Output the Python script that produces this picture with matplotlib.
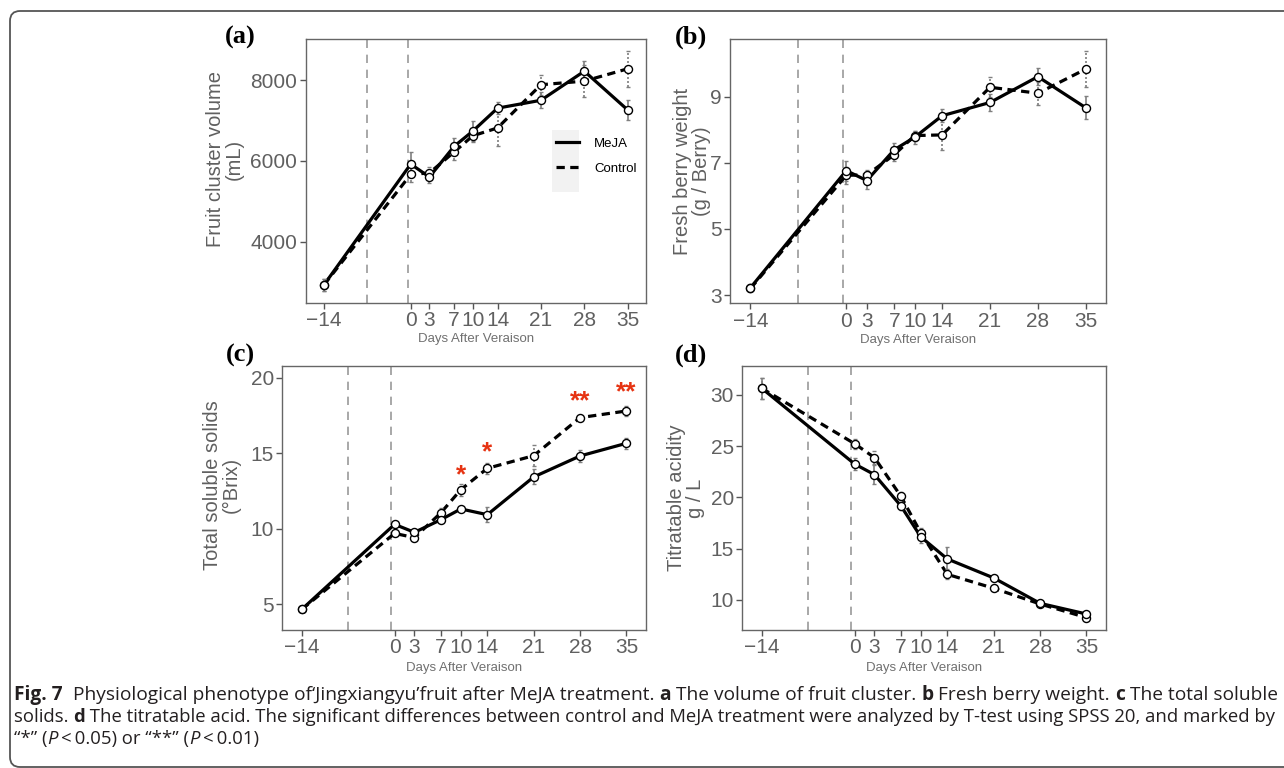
import matplotlib
matplotlib.use("Agg")
import matplotlib.pyplot as plt
from matplotlib.patches import FancyBboxPatch, Rectangle
from matplotlib.lines import Line2D
from matplotlib.transforms import IdentityTransform

plt.rcParams['font.family'] = ['Liberation Sans', 'DejaVu Sans']

days = [-14, 0, 3, 7, 10, 14, 21, 28, 35]
vlines = [-7, -0.5]

# (a) fruit cluster volume, mL
vol_meja = [2930, 5920, 5600, 6360, 6735, 7305, 7500, 8220, 7260]
vol_ctrl = [2930, 5665, 5700, 6220, 6620, 6815, 7885, 7975, 8280]
vol_meja_err = [150, 300, 150, 200, 250, 150, 200, 250, 250]
vol_ctrl_err = [150, 200, 150, 200, 150, 450, 250, 400, 450]

# (b) fresh berry weight, g / berry
wt_meja = [3.22, 6.76, 6.46, 7.39, 7.77, 8.42, 8.82, 9.60, 8.66]
wt_ctrl = [3.20, 6.62, 6.63, 7.24, 7.82, 7.84, 9.28, 9.10, 9.83]
wt_meja_err = [0.1, 0.3, 0.25, 0.2, 0.2, 0.2, 0.25, 0.25, 0.35]
wt_ctrl_err = [0.1, 0.25, 0.15, 0.2, 0.15, 0.45, 0.3, 0.35, 0.55]

# (c) total soluble solids, Brix
tss_meja = [4.65, 10.28, 9.75, 10.59, 11.30, 10.92, 13.42, 14.81, 15.65]
tss_ctrl = [4.65, 9.68, 9.40, 11.05, 12.58, 13.99, 14.83, 17.35, 17.79]
tss_meja_err = [0.1, 0.15, 0.2, 0.15, 0.15, 0.5, 0.5, 0.4, 0.35]
tss_ctrl_err = [0.1, 0.2, 0.2, 0.3, 0.4, 0.35, 0.7, 0.15, 0.35]
sig_days = [10, 14, 28, 35]
sig_marks = ['*', '*', '**', '**']
sig_y = [13.55, 15.05, 18.4, 19.0]

# (d) titratable acidity, g / L
ta_meja = [30.65, 23.27, 22.23, 19.17, 16.15, 14.0, 12.15, 9.67, 8.63]
ta_ctrl = [30.65, 25.25, 23.89, 20.11, 16.54, 12.5, 11.14, 9.61, 8.28]
ta_meja_err = [1.0, 0.6, 0.9, 0.4, 0.6, 1.2, 0.3, 0.3, 0.2]
ta_ctrl_err = [1.0, 0.5, 0.6, 0.4, 0.5, 0.5, 0.3, 0.2, 0.3]

W, H = 1284, 768
fig = plt.figure(figsize=(W / 100, H / 100), dpi=100)

GREY = '#606060'


def px_axes(left, right, top, bottom):
    return fig.add_axes([left / W, 1 - bottom / H, (right - left) / W, (bottom - top) / H])


panels = [
    dict(box=(305.7, 646, 39.3, 303), ylim=(2480, 9010), yticks=[4000, 6000, 8000],
         ylabel='Fruit cluster volume\n(mL)', lab=(-0.181, 0.545), xlab=-0.115,
         m=vol_meja, c=vol_ctrl, me=vol_meja_err, ce=vol_ctrl_err, tag='(a)', tagpos=(240, 37)),
    dict(box=(730.3, 1106, 39.3, 303.3), ylim=(2.75, 10.73), yticks=[3, 5, 7, 9],
         ylabel='Fresh berry weight\n(g / Berry)', lab=(-0.051, 0.5), xlab=-0.115,
         m=wt_meja, c=wt_ctrl, me=wt_meja_err, ce=wt_ctrl_err, tag='(b)', tagpos=(691, 37)),
    dict(box=(282.3, 646, 366.3, 630), ylim=(3.28, 20.75), yticks=[5, 10, 15, 20],
         ylabel='Total soluble solids\n(°Brix)', lab=(-0.114, 0.55), xlab=-0.12,
         m=tss_meja, c=tss_ctrl, me=tss_meja_err, ce=tss_ctrl_err, tag='(c)', tagpos=(240, 355)),
    dict(box=(742.3, 1106, 366.3, 630), ylim=(7.07, 32.8), yticks=[10, 15, 20, 25, 30],
         ylabel='Titratable acidity\ng / L', lab=(-0.103, 0.5), xlab=-0.12,
         m=ta_meja, c=ta_ctrl, me=ta_meja_err, ce=ta_ctrl_err, tag='(d)', tagpos=(691, 355)),
]

axes = []
for p in panels:
    ax = px_axes(*p['box'])
    axes.append(ax)
    for v in vlines:
        ax.axvline(v, color='#9a9a9a', lw=1.2, dashes=(5, 4), zorder=1)
    ax.plot(days, p['m'], color='black', lw=2.3, solid_capstyle='butt', zorder=2)
    ax.plot(days, p['c'], color='black', lw=2.3, dashes=(2.6, 1.7), zorder=2)
    ax.errorbar(days, p['m'], yerr=p['me'], fmt='none', ecolor='#7f7f7f',
                elinewidth=1.2, capsize=1.5, capthick=1.0, zorder=3)
    eb = ax.errorbar(days, p['c'], yerr=p['ce'], fmt='none', ecolor='#7f7f7f',
                     elinewidth=1.2, capsize=1.5, capthick=1.0, zorder=3)
    eb[2][0].set_linestyle((0, (1.2, 1.2)))
    for ys in (p['c'], p['m']):
        ax.plot(days, ys, 'o', ms=5.8, mfc='white', mec='black', mew=1.0, zorder=4)
    ax.set_xlim(-16.95, 37.95)
    ax.set_ylim(*p['ylim'])
    ax.set_xticks(days)
    ax.set_xticklabels(['\u221214' if d < 0 else str(d) for d in days])
    ax.set_yticks(p['yticks'])
    ax.tick_params(axis='both', labelsize=15, labelcolor=GREY, color='#555555',
                   length=4, width=1, pad=2)
    for s in ax.spines.values():
        s.set_color('#666666')
        s.set_linewidth(1.0)
    ax.set_ylabel(p['ylabel'], fontsize=14.5, color=GREY, linespacing=1.0)
    ax.yaxis.set_label_coords(*p['lab'])
    ax.set_xlabel('Days After Veraison', fontsize=9.5, color='#707070')
    ax.xaxis.set_label_coords(0.5, p['xlab'])
    fig.text(p['tagpos'][0] / W, 1 - p['tagpos'][1] / H, p['tag'], fontsize=19,
             fontweight='bold', family='Liberation Serif', ha='center', va='center')

# significance marks on (c)
for d, s, y in zip(sig_days, sig_marks, sig_y):
    axes[2].text(d, y, s, color='#E63312', fontsize=19, ha='center', va='center',
                 fontweight='bold')

# legend in (a)
ax = axes[0]
ax.add_patch(Rectangle((0.725, 0.421), 0.079, 0.235, transform=ax.transAxes,
                       facecolor='#F2F2F2', edgecolor='none', zorder=0.5))
handles = [Line2D([], [], color='black', lw=2.3),
           Line2D([], [], color='black', lw=2.3, dashes=(2.6, 1.7))]
ax.legend(handles, ['MeJA', 'Control'], loc='center left', bbox_to_anchor=(0.727, 0.557),
          frameon=False, fontsize=9.5, handlelength=1.8, handletextpad=1.1,
          labelspacing=1.0, borderaxespad=0, borderpad=0.2)

# frame around the figure (right side runs off the page); white fill avoids edge clipping
fig.add_artist(FancyBboxPatch((10, 1), 1400, 756, boxstyle='round,pad=0,rounding_size=10',
                              transform=IdentityTransform(), facecolor='white',
                              edgecolor='#555555', lw=1.3, zorder=-5))

# caption with mixed bold / italic runs
renderer = fig.canvas.get_renderer()
CAP = dict(family=['Open Sans', 'DejaVu Sans'], color='#231F20')


def run_width(s, size, **kw):
    t1 = fig.text(0, 0, '|' + s + '|', fontsize=size, **kw)
    t2 = fig.text(0, 0, '||', fontsize=size, **kw)
    w = t1.get_window_extent(renderer).width - t2.get_window_extent(renderer).width
    t1.remove()
    t2.remove()
    return w


def rich_line(x_px, y_px, parts, size, right_px=None):
    if right_px is not None:
        total = sum(run_width(s, size, **dict(CAP, **extra)) for s, extra in parts)
        size = size * (right_px - x_px) / total
    x = x_px
    for s, extra in parts:
        kw = dict(CAP, **extra)
        fig.text(x / W, 1 - y_px / H, s, va='baseline', ha='left', fontsize=size, **kw)
        x += run_width(s, size, **kw)
    return size


B = dict(fontweight='bold')
I = dict(style='italic')
N = {}
rich_line(14, 700, [('Fig. 7', B), ('  Physiological phenotype of\u2018Jingxiangyu\u2019fruit after MeJA treatment. ', N),
                    ('a', B), (' The volume of fruit cluster. ', N), ('b', B),
                    (' Fresh berry weight. ', N), ('c', B), (' The total soluble', N)],
          13.6, right_px=1275)
s2 = rich_line(14, 722, [('solids. ', N), ('d', B),
                         (' The titratable acid. The significant differences between control and MeJA treatment '
                          'were analyzed by T-test using SPSS 20, and marked by', N)],
               13.6, right_px=1272)
rich_line(14, 744, [('\u201c*\u201d (', N), ('P', I), ('\u2009<\u20090.05) or \u201c**\u201d (', N),
                    ('P', I), ('\u2009<\u20090.01)', N)], s2)

fig.savefig('out.png', dpi=100)
